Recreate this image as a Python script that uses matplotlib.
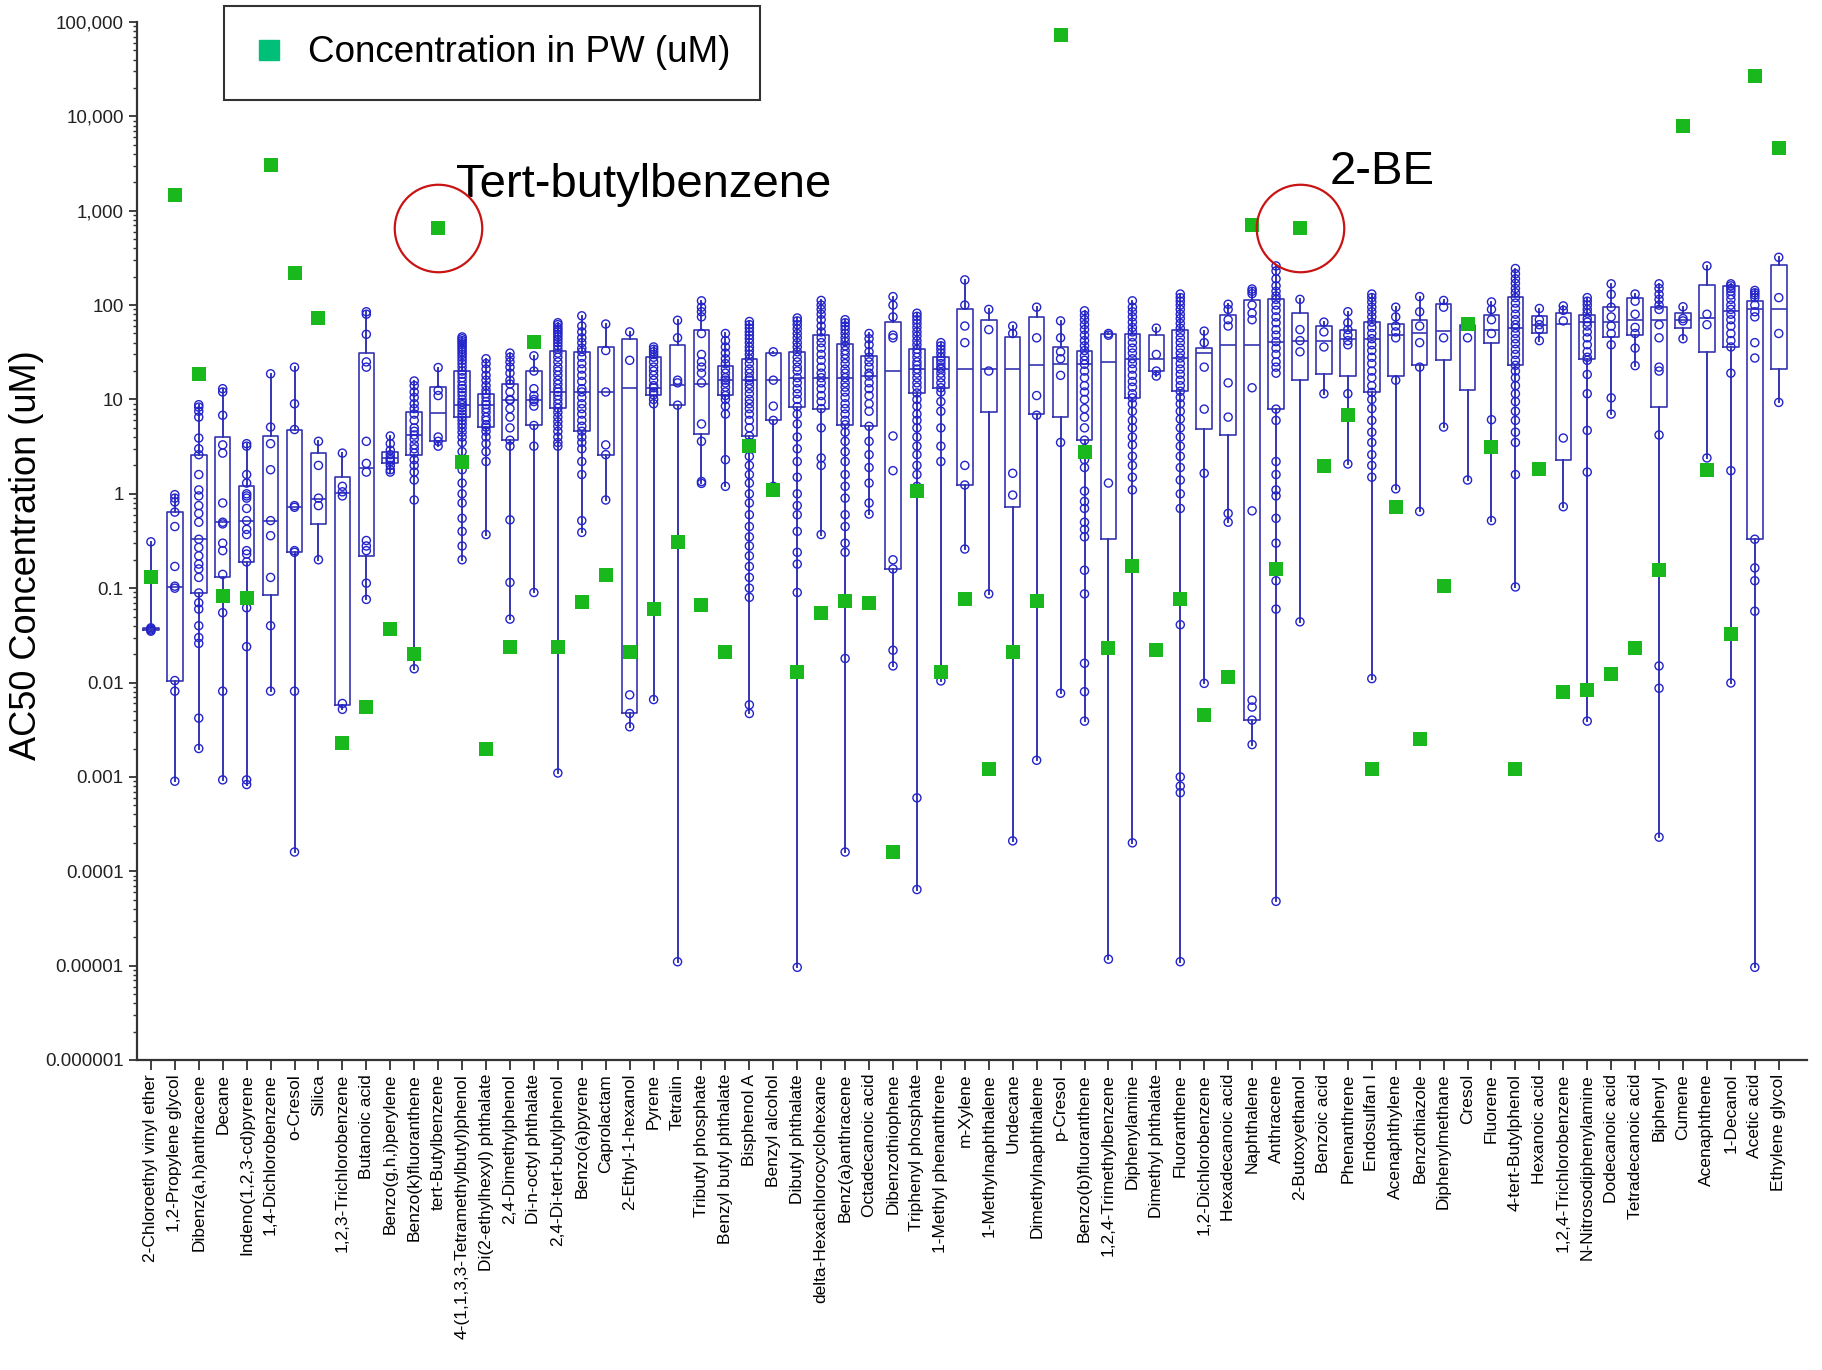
import numpy as np
import matplotlib
matplotlib.use("Agg")
import matplotlib.pyplot as plt
from matplotlib.lines import Line2D
from matplotlib.ticker import LogLocator, NullFormatter

plt.rcParams['font.family'] = ['Liberation Sans', 'DejaVu Sans']

# chemical names, in plot order
names = ["2-Chloroethyl vinyl ether", "1,2-Propylene glycol", "Dibenz(a,h)anthracene", "Decane",
         "Indeno(1,2,3-cd)pyrene", "1,4-Dichlorobenzene", "o-Cresol", "Silica",
         "1,2,3-Trichlorobenzene", "Butanoic acid", "Benzo(g,h,i)perylene", "Benzo(k)fluoranthene",
         "tert-Butylbenzene", "4-(1,1,3,3-Tetramethylbutyl)phenol", "Di(2-ethylhexyl) phthalate",
         "2,4-Dimethylphenol", "Di-n-octyl phthalate", "2,4-Di-tert-butylphenol", "Benzo(a)pyrene",
         "Caprolactam", "2-Ethyl-1-hexanol", "Pyrene", "Tetralin", "Tributyl phosphate",
         "Benzyl butyl phthalate", "Bisphenol A", "Benzyl alcohol", "Dibutyl phthalate",
         "delta-Hexachlorocyclohexane", "Benz(a)anthracene", "Octadecanoic acid", "Dibenzothiophene",
         "Triphenyl phosphate", "1-Methyl phenanthrene", "m-Xylene", "1-Methylnaphthalene",
         "Undecane", "Dimethylnaphthalene", "p-Cresol", "Benzo(b)fluoranthene",
         "1,2,4-Trimethylbenzene", "Diphenylamine", "Dimethyl phthalate", "Fluoranthene",
         "1,2-Dichlorobenzene", "Hexadecanoic acid", "Naphthalene", "Anthracene", "2-Butoxyethanol",
         "Benzoic acid", "Phenanthrene", "Endosulfan I", "Acenaphthylene", "Benzothiazole",
         "Diphenylmethane", "Cresol", "Fluorene", "4-tert-Butylphenol", "Hexanoic acid",
         "1,2,4-Trichlorobenzene", "N-Nitrosodiphenylamine", "Dodecanoic acid", "Tetradecanoic acid",
         "Biphenyl", "Cumene", "Acenaphthene", "1-Decanol", "Acetic acid", "Ethylene glycol"]

# box statistics of AC50 (uM)
whislo = [0.035, 0.0009, 0.002, 0.00093, 0.00083, 0.0081, 0.00016, 0.2, 0.0052, 0.076, 1.7, 0.014,
          3.2, 0.2, 0.37, 0.047, 0.09, 0.0011, 0.39, 0.86, 0.0034, 0.0066, 1.1e-5, 1.29,
          1.2, 0.0047, 1.2, 9.6e-6, 0.37, 0.00016, 0.61, 0.015, 6.4e-5, 0.0104, 0.26, 0.087,
          0.00021, 0.0015, 0.0077, 0.0039, 1.17e-5, 0.0002, 17.7, 1.1e-5, 0.0098, 0.5, 0.0022, 4.8e-5,
          0.044, 11.5, 2.07, 0.011, 1.13, 0.65, 5.1, 1.4, 0.52, 0.103, 42, 0.73, 0.0039, 7, 22.8,
          0.00023, 44, 2.4, 0.0099, 9.6e-6, 9.3]
q1 = [0.036, 0.0105, 0.089, 0.13, 0.19, 0.085, 0.24, 0.48, 0.0058, 0.22, 2.1, 2.6,
      3.6, 6.5, 5.1, 3.7, 5.3, 8.1, 4.6, 2.6, 0.0047, 11.2, 8.7, 4.3,
      11.2, 4.1, 6, 8.4, 7.9, 5.4, 5.2, 0.16, 11.7, 13.3, 1.24, 7.4,
      0.73, 7, 6.5, 3.7, 0.33, 10.4, 20, 12.2, 4.9, 4.2, 0.004, 7.9,
      16, 18.4, 17.7, 11.9, 17.7, 23, 26, 12.6, 40, 23, 50, 2.3, 27, 46, 48,
      8.4, 57, 32, 36, 0.33, 21]
med = [0.037, 0.103, 0.33, 0.5, 0.52, 0.52, 0.73, 0.88, 1.03, 1.87, 2.4, 4.2,
       7.2, 8.8, 8.8, 9.8, 9.8, 12, 12, 12, 13.3, 13.3, 14.4, 14.7,
       16, 16, 16, 17, 17, 17, 17.7, 20, 21, 21, 21, 21,
       21, 23, 23.6, 23.6, 25, 27, 27, 27.5, 31, 37.5, 37.5, 41,
       42, 42, 44, 44, 48, 50, 53, 58, 55, 57, 62, 63, 66, 66, 70,
       70, 70, 73, 87, 90, 90]
q3 = [0.038, 0.64, 2.6, 4.0, 1.2, 4.1, 4.8, 2.7, 1.5, 31, 2.8, 7.4,
      13.5, 20, 11.5, 14.6, 20, 33, 32, 36, 44, 28, 38, 54,
      22.8, 27, 31, 32, 48, 39, 29, 67, 34, 28, 90, 70,
      46, 74, 36, 33, 49, 49, 48, 55, 35, 79, 112, 115,
      82, 60, 55, 66, 63, 70, 102, 62, 79, 123, 76, 82, 79, 96, 120,
      96, 82, 162, 158, 111, 267]
whishi = [0.31, 0.98, 8.8, 13, 3.4, 18.7, 22, 3.6, 2.7, 85, 4.1, 15.7,
          21.8, 46, 27, 31, 29, 65, 77, 63, 52, 36, 69, 111,
          50, 67, 32, 73, 112, 70, 50, 123, 82, 40, 185, 90,
          60, 95, 68, 87, 50, 111, 57, 131, 53, 102, 148, 260,
          115, 66, 85, 131, 95, 123, 112, 62, 108, 244, 92, 98, 120, 168, 131,
          168, 96, 260, 168, 143, 321]

# individual AC50 values shown as open circles
points = [
    [0.31, 0.038, 0.037, 0.036, 0.035],
    [0.98, 0.9, 0.82, 0.64, 0.45, 0.17, 0.105, 0.1, 0.0105, 0.0081, 0.0009],
    [8.8, 8.3, 7.5, 6.5, 3.9, 3.0, 2.6, 1.6, 1.1, 0.95, 0.75, 0.62, 0.5, 0.33, 0.27, 0.22, 0.18,
     0.16, 0.13, 0.089, 0.07, 0.06, 0.04, 0.03, 0.026, 0.0042, 0.002],
    [13, 12, 6.8, 3.3, 2.7, 0.8, 0.5, 0.48, 0.3, 0.25, 0.14, 0.055, 0.0081, 0.00093],
    [3.4, 3.2, 1.6, 1.3, 1.0, 0.95, 0.9, 0.7, 0.52, 0.42, 0.37, 0.25, 0.23, 0.19, 0.062, 0.024,
     0.00093, 0.00083],
    [18.7, 5.1, 3.4, 1.8, 0.52, 0.36, 0.13, 0.04, 0.0081],
    [22, 9, 4.8, 0.75, 0.72, 0.25, 0.24, 0.0081, 0.00016],
    [3.6, 2.0, 0.9, 0.75, 0.2],
    [2.7, 1.2, 1.05, 0.95, 0.006, 0.0052],
    [85, 80, 49, 25, 22, 3.6, 2.1, 1.7, 0.32, 0.28, 0.25, 0.113, 0.076],
    [4.1, 3.4, 2.9, 2.6, 2.4, 2.3, 2.2, 2.0, 1.8, 1.7],
    [15.7, 14, 12, 10.5, 9, 8, 7, 6, 5, 4.6, 4.2, 3.8, 3.3, 3, 2.7, 2.3, 2.0, 1.7, 1.4, 0.86, 0.014],
    [21.8, 12.5, 11, 4, 3.6, 3.2],
    [46, 44, 42, 40, 38, 36, 34, 32, 30, 28, 26, 24, 22, 20, 18.5, 17, 15.5, 14, 13, 12, 11, 10,
     9.3, 8.8, 8.2, 7.6, 7, 6.5, 6, 5.5, 5, 4.5, 4, 3.5, 2.8, 2.2, 1.8, 1.3, 1.0, 0.8, 0.55, 0.4,
     0.28, 0.2],
    [27, 24, 21, 18, 16, 14, 12.5, 11.5, 10.5, 9.5, 8.8, 8, 7.3, 6.5, 6, 5.4, 5.1, 4.6, 4, 3.4,
     2.8, 2.2, 0.37],
    [31, 28, 25, 22, 19, 16, 14.6, 12, 10, 9.8, 8, 6.5, 5, 3.7, 3.2, 0.53, 0.115, 0.047],
    [29, 20, 13, 11, 10, 9.5, 8.5, 5.3, 3.2, 0.09],
    [65, 62, 58, 55, 52, 49, 46, 43, 40, 37, 34, 31, 28, 25, 22, 20, 18, 16, 14.5, 13, 12, 11, 10,
     9, 8.1, 7.3, 6.5, 5.8, 5.2, 4.6, 4, 3.5, 3.2, 0.0011],
    [77, 60, 52, 45, 40, 35, 32, 28, 24, 21, 18, 15.5, 13, 12, 10.5, 9, 8, 7, 6, 5.2, 4.6, 4, 3.5,
     3.0, 2.2, 1.6, 0.52, 0.39],
    [63, 33, 12, 3.3, 2.6, 0.86],
    [52, 26, 0.0074, 0.0047, 0.0034],
    [36, 34, 32, 30, 28, 25, 22, 20, 18, 16, 14, 13.3, 12, 11.2, 10, 9, 0.0066],
    [69, 45, 16, 15, 8.7, 1.1e-5],
    [111, 95, 85, 75, 50, 30, 25, 22, 19, 15, 5.5, 3.6, 1.35, 1.29],
    [50, 42, 36, 31, 27, 24, 21, 19, 17, 16, 15, 13.5, 12, 11, 10, 8.5, 7, 2.3, 1.2],
    [67, 62, 57, 52, 48, 44, 40, 36, 33, 30, 27, 24, 21, 19, 17, 16, 14.5, 13, 11.5, 10, 9, 8, 7,
     6, 5, 4.1, 3.5, 3.0, 2.5, 2.0, 1.6, 1.3, 1.0, 0.8, 0.6, 0.45, 0.35, 0.28, 0.22, 0.17, 0.13,
     0.1, 0.08, 0.0058, 0.0047],
    [32, 16, 8.5, 6, 1.2],
    [73, 68, 62, 56, 50, 45, 40, 36, 32, 28, 25, 22, 20, 17, 15, 13, 11.5, 10, 8.4, 7, 5.5, 4, 3,
     2.2, 1.5, 1.0, 0.75, 0.6, 0.4, 0.24, 0.18, 0.09, 9.6e-6],
    [112, 100, 90, 80, 70, 60, 52, 45, 40, 35, 30, 26, 22, 19, 17, 15, 13, 11, 9.5, 8, 5, 2.4,
     2.0, 0.37],
    [70, 65, 60, 55, 50, 45, 41, 37, 33, 30, 27, 24, 21, 19, 17, 15, 13.5, 12, 10.5, 9, 8, 7, 6,
     5.4, 4.5, 3.6, 2.8, 2.2, 1.6, 1.2, 0.9, 0.6, 0.45, 0.3, 0.24, 0.018, 0.00016],
    [50, 44, 38, 32, 28, 25, 22, 19, 17.7, 15, 13, 11, 9, 7.5, 5.2, 3.6, 2.6, 1.9, 1.3, 0.8, 0.61],
    [123, 100, 75, 48, 45, 4.1, 1.76, 0.2, 0.16, 0.022, 0.015],
    [82, 76, 70, 64, 58, 52, 47, 42, 38, 34, 31, 28, 25, 23, 21, 19, 17, 15, 13.5, 11.7, 10, 8.5,
     7, 6, 5, 4, 3.2, 2.6, 2.0, 1.6, 1.2, 0.0006, 6.4e-5],
    [40, 37, 34, 31, 28, 26, 24, 22, 21, 19, 17, 15, 13.3, 12, 9.5, 7.5, 5, 3.2, 2.2, 0.0104],
    [185, 100, 60, 40, 2.0, 1.24, 0.26],
    [90, 55, 20, 0.087],
    [60, 50, 1.65, 0.97, 0.00021],
    [95, 45, 11, 6.8, 0.0015],
    [68, 45, 32, 27, 18, 3.5, 0.0077],
    [87, 78, 70, 62, 55, 48, 42, 37, 33, 29, 26, 23.6, 20, 17, 14, 12, 10, 8, 6.5, 5, 3.7, 3, 2.3,
     1.9, 1.07, 0.83, 0.7, 0.5, 0.42, 0.35, 0.155, 0.087, 0.016, 0.008, 0.0039],
    [50, 48, 1.3, 1.17e-5],
    [111, 95, 85, 75, 66, 58, 52, 46, 40, 35, 31, 27, 24, 21, 18, 15.5, 13.5, 11.5, 10.4, 9, 7.5,
     6, 5, 4, 3.3, 2.5, 2.0, 1.5, 1.1, 0.0002],
    [57, 30, 20, 17.7],
    [131, 120, 110, 100, 90, 80, 72, 64, 57, 51, 45, 40, 35, 31, 27.5, 24, 21, 18.5, 16, 14, 12.2,
     10.5, 9, 7.5, 6.2, 5, 4, 3.2, 2.5, 1.9, 1.4, 1.0, 0.7, 0.041, 0.001, 0.0008, 0.00068, 1.1e-5],
    [53, 40, 22, 7.9, 1.65, 0.0098],
    [102, 90, 70, 60, 15, 6.5, 0.62, 0.5],
    [148, 140, 132, 100, 82, 70, 13.3, 0.66, 0.0065, 0.0055, 0.004, 0.0022],
    [260, 230, 190, 160, 140, 125, 115, 100, 88, 75, 65, 55, 48, 41, 35, 30, 25, 22, 19, 7.9, 6,
     2.2, 1.6, 1.1, 0.95, 0.55, 0.3, 0.12, 0.06, 4.8e-5],
    [115, 55, 42, 32, 0.044],
    [66, 52, 36, 11.5],
    [85, 65, 55, 48, 42, 38, 11.5, 2.07],
    [131, 120, 108, 95, 85, 75, 66, 58, 50, 44, 38, 33, 28, 24, 20, 17, 14, 11.9, 10, 8, 6, 4.5,
     3.5, 2.6, 2.0, 1.5, 0.011],
    [95, 75, 60, 52, 45, 16, 1.13],
    [123, 85, 60, 40, 22, 0.65],
    [112, 95, 45, 5.1],
    [62, 45, 1.4],
    [108, 90, 70, 50, 6.1, 0.52],
    [244, 215, 190, 170, 150, 135, 120, 105, 92, 80, 70, 62, 57, 50, 44, 39, 34, 30, 26, 23, 20,
     17, 14, 11.5, 9.5, 7.5, 6, 4.5, 3.5, 1.6, 0.103],
    [92, 70, 62, 55, 42],
    [98, 88, 68, 3.9, 0.73],
    [120, 110, 100, 90, 82, 72, 66, 60, 52, 45, 38, 32, 28, 26, 18.4, 11.5, 4.7, 1.7, 0.0039],
    [168, 130, 95, 75, 60, 50, 38, 10.4, 7],
    [131, 110, 80, 58, 50, 35, 22.8],
    [168, 150, 130, 115, 100, 90, 62, 45, 22, 20, 4.2, 0.015, 0.0087, 0.00023],
    [96, 72, 68, 44],
    [260, 80, 62, 2.4],
    [168, 160, 150, 140, 128, 115, 100, 90, 80, 70, 60, 50, 42, 36, 19, 1.76, 0.0099],
    [143, 135, 128, 120, 100, 85, 75, 40, 27.5, 0.33, 0.164, 0.12, 0.057, 9.6e-6],
    [321, 120, 50, 9.3],
]

# concentration in produced water (uM)
pw_conc = [0.13, 1470, 18.7, 0.083, 0.079, 3050, 220, 73, 0.0023, 0.0055, 0.037, 0.02,
           660, 2.2, 0.002, 0.024, 41, 0.024, 0.071, 0.139, 0.021, 0.06, 0.31, 0.067,
           0.021, 3.2, 1.1, 0.013, 0.055, 0.073, 0.07, 0.00016, 1.07, 0.013, 0.077, 0.0012,
           0.021, 0.073, 73000, 2.8, 0.023, 0.17, 0.022, 0.077, 0.0045, 0.0115, 700, 0.16,
           660, 1.95, 6.8, 0.0012, 0.72, 0.0025, 0.106, 63, 3.1, 0.0012, 1.83, 0.008, 0.0084,
           0.0122, 0.023, 0.154, 7900, 1.8, 0.033, 27000, 4650]

yticks = [1e5, 1e4, 1e3, 1e2, 1e1, 1, 0.1, 0.01, 0.001, 0.0001, 0.00001, 0.000001]
ytick_labels = ["100,000", "10,000", "1,000", "100", "10", "1", "0.1", "0.01", "0.001",
                "0.0001", "0.00001", "0.000001"]

highlighted = ["tert-Butylbenzene", "2-Butoxyethanol"]
highlight_text = ["Tert-butylbenzene", "2-BE"]

box_col = '#3535b0'
dot_col = '#2424cc'
green = '#19b81c'

fig = plt.figure(figsize=(18.22, 13.70), dpi=100)
ax = fig.add_axes([137/1822, 1 - 1060/1370, 1670/1822, 1038/1370])
ax.set_yscale('log')

x = np.arange(len(names))
stats = [dict(label=n, whislo=a, q1=b, med=c, q3=d, whishi=e)
         for n, a, b, c, d, e in zip(names, whislo, q1, med, q3, whishi)]
ax.bxp(stats, positions=x, widths=0.65, showcaps=False, showfliers=False,
       boxprops=dict(color=box_col, linewidth=1.2),
       whiskerprops=dict(color=box_col, linewidth=1.4),
       medianprops=dict(color=box_col, linewidth=1.2))

for i, pts in enumerate(points):
    ax.scatter(np.full(len(pts), i), pts, s=34, facecolors='none', edgecolors=dot_col,
               linewidths=1.0, zorder=3)

ax.scatter(x, pw_conc, marker='s', s=105, color=green, zorder=5, linewidths=0)

# red rings + labels
for n, t in zip(highlighted, highlight_text):
    i = names.index(n)
    ax.plot(i, pw_conc[i], marker='o', markersize=63, mfc='none', mec='#c81414', mew=1.6,
            zorder=6)
    off = (18, 43) if i < 30 else (30, 56)
    ax.annotate(t, (i, pw_conc[i]), xytext=off, textcoords='offset pixels',
                ha='left', va='center', fontsize=34, color='black')

ax.set_xlim(-0.58, len(names) + 0.18)
ax.set_ylim(1e-6, 1e5)
ax.set_xticks(x, labels=names, rotation=90, fontsize=12.5)
ax.set_yticks(yticks, labels=ytick_labels, fontsize=13.5)
ax.yaxis.set_minor_locator(LogLocator(base=10, subs=np.arange(2, 10), numticks=20))
ax.yaxis.set_minor_formatter(NullFormatter())
ax.tick_params(axis='x', length=7, width=1.3, color='#333333', pad=3)
ax.tick_params(axis='y', which='major', length=6, width=1.3, color='#333333', labelcolor='#222222')
ax.tick_params(axis='y', which='minor', length=3, width=1.0, color='#333333')
for s in ['top', 'right']:
    ax.spines[s].set_visible(False)
for s in ['left', 'bottom']:
    ax.spines[s].set_linewidth(1.6)
    ax.spines[s].set_color('#333333')

fig.text(27/1822, 1 - 555/1370, "AC50 Concentration (uM)", rotation=90, ha='center',
         va='center', fontsize=26)

handle = Line2D([], [], marker='s', linestyle='none', color='#00bf78', markersize=15)
leg = fig.legend([handle], ["Concentration in PW (uM)"], loc='upper left',
                 bbox_to_anchor=(224/1822, 1 - 6/1370), fontsize=26.5, frameon=True,
                 fancybox=False, edgecolor='black', borderpad=0.8, handlelength=0.82,
                 handletextpad=0.67, borderaxespad=0)
leg.get_frame().set_linewidth(1.5)

fig.savefig('out.png', dpi=100)
